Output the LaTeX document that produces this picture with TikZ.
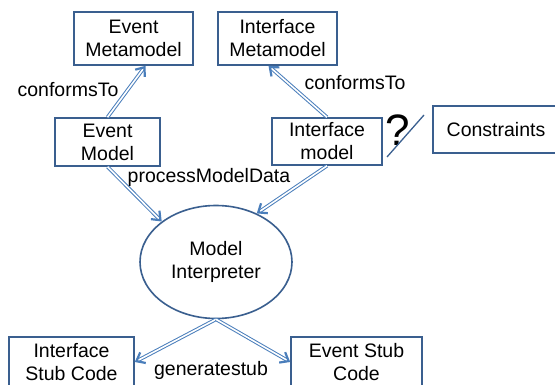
\documentclass[tikz,border=0pt]{standalone}
\usepackage{fontspec}
\setmainfont{Liberation Sans}
\usetikzlibrary{arrows.meta,shapes.geometric,calc}
\definecolor{boxblue}{HTML}{3A5F8F}
\definecolor{arrblue}{HTML}{4A7EBB}
\tikzset{
  mbox/.style={draw=boxblue,line width=1.6pt,fill=white,align=center,inner sep=0pt,font=\fontsize{19.5}{23}\selectfont},
  lbl/.style={font=\fontsize{19.5}{23}\selectfont,inner sep=0pt},
  dbl/.style={draw=arrblue,double=white,line width=1pt,double distance=1.6pt,
    -{Straight Barb[length=7.5pt,width=12pt,line width=2.2pt]}},
}
\begin{document}
\begin{tikzpicture}[x=1pt,y=-1pt]
\useasboundingbox (0,0) rectangle (555,385);
\node[mbox,minimum width=119pt,minimum height=53pt] (emm) at (133.5,38.5) {Event\\Metamodel};
\node[mbox,minimum width=119pt,minimum height=53pt] (imm) at (277.5,38.5) {Interface\\Metamodel};
\node[mbox,minimum width=105pt,minimum height=48pt] (evm) at (107.5,142) {Event\\Model};
\node[mbox,minimum width=110pt,minimum height=47pt] (im) at (327,141.5) {Interface\\model};
\node[mbox,minimum width=134pt,minimum height=47pt,text width=122pt] (con) at (500,129.5) {\hspace*{-8pt}Constraints};
\node[mbox,ellipse,minimum width=152pt,minimum height=113pt] (mi) at (216,262) {Model\\Interpreter};
\node[mbox,minimum width=125pt,minimum height=50pt] (isc) at (71.5,362) {Interface\\Stub Code};
\node[mbox,minimum width=131pt,minimum height=50pt] (esc) at (356.5,362) {Event Stub\\Code};

\node[lbl] (q) at (398,130) {\fontsize{44}{44}\selectfont ?};
\coordinate (s1) at (387,157);
\coordinate (s2) at (424,115);
\draw[boxblue,line width=1.3pt] (s1) -- (s2);

\draw[dbl] (evm.north) -- ([xshift=12pt]emm.south);
\draw[dbl] (im.north) -- ([xshift=-9pt]imm.south);
\draw[dbl] (evm.south) -- (mi.north west);
\draw[dbl] (im.south) -- (mi.50);
\draw[dbl] (mi.south) -- (isc.east);
\draw[dbl] (mi.south) -- (esc.west);

\node[lbl] (l1) at (68,90) {conformsTo};
\node[lbl] (l2) at (355,83) {conformsTo};
\node[lbl] (l3) at (209,177) {processModelData};
\node[lbl] (l4) at (211,370) {generatestub};
\end{tikzpicture}
\end{document}
